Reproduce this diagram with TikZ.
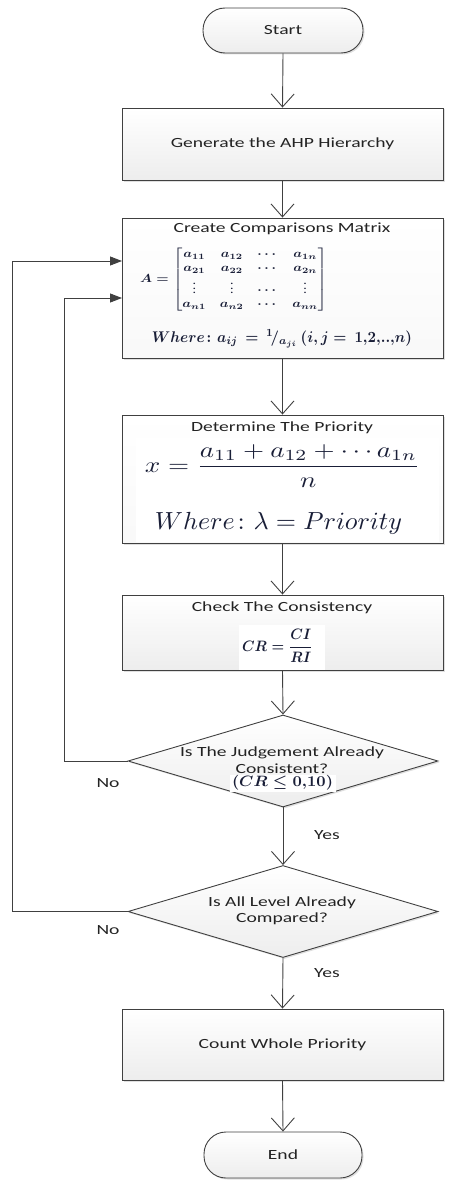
\documentclass[tikz,border=0pt]{standalone}
\usepackage{amsmath}
\usepackage{graphicx}
\usepackage{fontspec}
\setmainfont{Carlito}
\usetikzlibrary{arrows.meta,shapes.geometric,shadows}
\newcommand{\st}[1]{\scalebox{1.4}[1]{#1}}
\definecolor{ln}{RGB}{64,64,64}
\definecolor{tx}{RGB}{35,35,35}
\definecolor{mthc}{RGB}{25,30,55}
\begin{document}
\begin{tikzpicture}[x=1pt,y=-1pt,
  shad/.style={drop shadow={shadow xshift=1.5pt,shadow yshift=-1.5pt,opacity=0.25}},
  box/.style={draw=ln,line width=0.9pt,top color=white,bottom color=gray!14,shad,
    inner sep=0pt,minimum width=321pt,font=\fontsize{14}{16}\selectfont,text=tx},
  wbox/.style={box,bottom color=gray!5},
  term/.style={box,rounded corners=22pt,minimum width=160pt,minimum height=45pt},
  dec/.style={diamond,draw=ln,line width=0.9pt,top color=white,bottom color=gray!14,shad,
    minimum width=310pt,minimum height=92pt,inner sep=0pt},
  flow/.style={draw=ln,line width=0.9pt,-{Straight Barb[length=13pt,width=23pt]}},
  back/.style={draw=ln,line width=0.9pt,-{Triangle[length=12pt,width=9pt]}},
  lbl/.style={font=\fontsize{14}{16}\selectfont,text=tx,inner sep=0pt},
  mth/.style={text=mthc,inner sep=0pt},
  wpatch/.style={fill=white,draw=none,inner sep=0pt}
]
\useasboundingbox (0,0) rectangle (456,1180);

% main nodes
\node[term] (start) at (283,30.5) {\st{Start}};
\node[box,minimum height=72pt] (gen) at (282.5,144) {\st{Generate the AHP Hierarchy}};
\node[wbox,minimum height=140pt] (cmp) at (282.5,288) {};
\node[wbox,minimum height=128pt] (pri) at (282.5,479) {};
\node[box,minimum height=75pt] (chk) at (282.5,632.5) {};
\node[dec] (d1) at (283,761) {};
\node[dec] (d2) at (283,911.5) {};
\node[box,minimum height=71pt] (cnt) at (282.5,1044.5) {\st{Count Whole Priority}};
\node[term,minimum width=158pt,minimum height=46pt] (end) at (283,1155) {\st{End}};

% contents of the comparison matrix box
\node[lbl] (cmpt) at (282,229) {\st{Create Comparisons Matrix}};
\node[mth] (mat) at (233.5,280) {\resizebox*{187pt}{64pt}{\boldmath$A=\begin{bmatrix}
 a_{11} & a_{12} & \cdots & a_{1n}\\
 a_{21} & a_{22} & \cdots & a_{2n}\\
 \vdots & \vdots & \cdots & \vdots\\
 a_{n1} & a_{n2} & \cdots & a_{nn}
 \end{bmatrix}$}};
\node[mth] (wh1) at (282,339) {\resizebox*{260pt}{18pt}{\boldmath$Where\colon a_{ij}\,=\,{}^{1}\!/_{a_{ji}}\ (i,j=\ 1{,}2{,}..{,}n)$}};

% contents of the priority box
\node[wpatch,minimum width=303pt,minimum height=104pt] (pimg) at (287,490) {};
\node[lbl] (prit) at (282,428) {\st{Determine The Priority}};
\node[mth] (pform) at (282.5,466) {\resizebox*{275pt}{43pt}{$x=\dfrac{a_{11}+a_{12}+\cdots a_{1n}}{n}$}};
\node[mth] (wh2) at (278.5,523) {\resizebox*{247pt}{22pt}{$Where\colon \lambda=Priority$}};

% contents of the consistency box
\node[lbl] (chkt) at (282,608) {\st{Check The Consistency}};
\node[wpatch,minimum width=86pt,minimum height=45pt] (cimg) at (282,647.5) {};
\node[mth] (crf) at (277.5,646) {\resizebox*{71pt}{33pt}{\boldmath$CR=\dfrac{CI}{RI}$}};

% decision texts
\node[lbl] (d1a) at (282,753) {\st{Is The Judgement Already}};
\node[lbl] (d1b) at (282,769) {\st{Consistent?}};
\node[wpatch,minimum width=106pt,minimum height=17pt] (d1img) at (282.5,783) {};
\node[mth] (d1c) at (282.5,783) {\resizebox*{101pt}{15pt}{\boldmath$(CR\leq 0{,}10)$}};
\node[lbl] (d2a) at (282,903) {\st{Is All Level Already}};
\node[lbl] (d2b) at (282,919) {\st{Compared?}};

% labels
\node[lbl] (no1) at (108,783) {\st{No}};
\node[lbl] (no2) at (108,930) {\st{No}};
\node[lbl] (yes1) at (327,835) {\st{Yes}};
\node[lbl] (yes2) at (327,973) {\st{Yes}};

% main flow
\draw[flow] (start.south) -- (gen.north);
\draw[flow] (gen.south) -- (cmp.north);
\draw[flow] (cmp.south) -- (pri.north);
\draw[flow] (pri.south) -- (chk.north);
\draw[flow] (chk.south) -- (d1.north);
\draw[flow] (d1.south) -- (d2.north);
\draw[flow] (d2.south) -- (cnt.north);
\draw[flow] (cnt.south) -- (end.north);

% feedback loops
\coordinate (c1) at (64,761);
\coordinate (c2) at (12,911.5);
\coordinate (e1) at (122,298);
\coordinate (e2) at (122,261);
\draw[back] (d1.west) -- (c1) |- (e1);
\draw[back] (d2.west) -- (c2) |- (e2);
\end{tikzpicture}
\end{document}
